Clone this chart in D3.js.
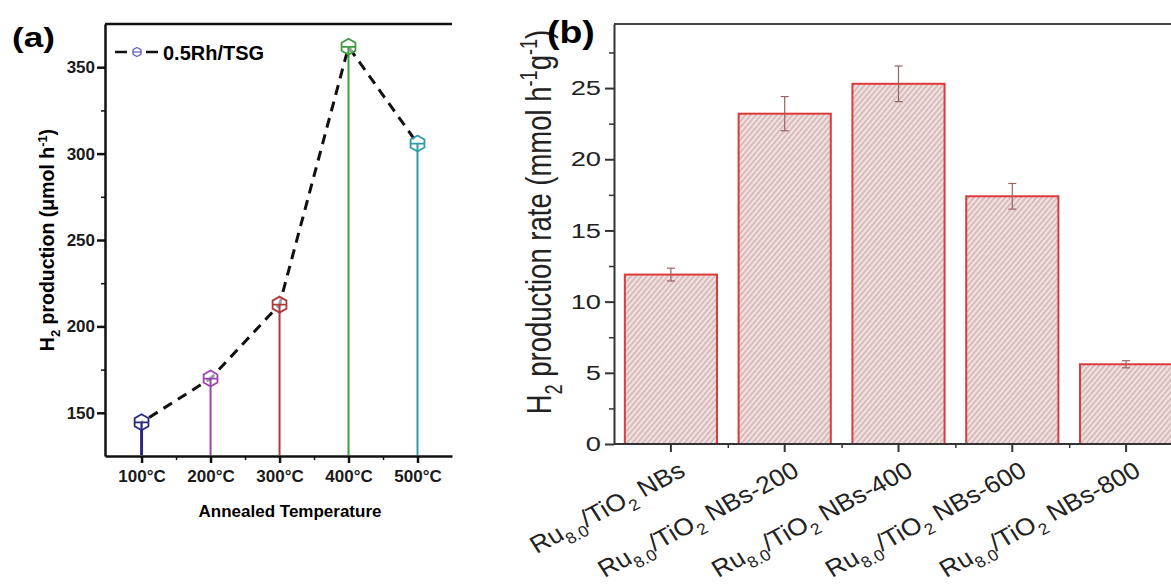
<!DOCTYPE html>
<meta charset="utf-8">
<style>
body { margin: 0; background: #fff; }
svg { display: block; font-family: Arial, "Liberation Sans", sans-serif; }
.axa path, .axa line { stroke: #111; stroke-width: 2.5px; fill: none; }
.axa text { font-weight: bold; font-size: 17px; fill: #1a1a1a; }
.axb path, .axb line { stroke: #333; stroke-width: 2px; fill: none; }
.axb text { font-size: 21px; fill: #222; }
.minor line { stroke-width: 1.5px; }
</style>
<body>
<script src="https://d3js.org/d3.v7.min.js"></script>
<script>

//
// data, panel (a)
//
var tempLabels = ["100°C", "200°C", "300°C", "400°C", "500°C"];
var h2Production = [144.5, 169.8, 212.6, 361.8, 305.8];
var aYTicks = [150, 200, 250, 300, 350];
var aYMinor = [175, 225, 275, 325];

//
// data, panel (b)
//
var sampleSuffix = ["", "-200", "-400", "-600", "-800"];
var rates = [11.9, 23.2, 25.3, 17.4, 5.6];
var rateErr = [0.45, 1.2, 1.25, 0.9, 0.25];
var bYTicks = [0, 5, 10, 15, 20, 25];
var bYMinor = [2.5, 7.5, 12.5, 17.5, 22.5, 27.5];

var stemColors = ["#2a2a80", "#9b45b2", "#ab3a3a", "#3e9c3e", "#2f9ca8"];
var stretch = 1.3;   // panel (b) numbers look pulled wider

var svg = d3.select("body").append("svg")
    .attr("width", 1171)
    .attr("height", 585);

// rich text helper: parts = [[string, "sub"|"sup"|null]]
function rich(text, parts, size) {
  var shift = 0;
  parts.forEach(function(p) {
    var target = p[1] == "sub" ? size * 0.3 : p[1] == "sup" ? -size * 0.38 : 0;
    text.append("tspan")
        .attr("dy", target - shift)
        .style("font-size", p[1] ? (size * 0.66) + "px" : null)
        .text(p[0]);
    shift = target;
  });
}

//
// Panel (a)
//
var xA = d3.scaleLinear().domain([-0.53, 4.5]).range([105, 452]);
var yA = d3.scaleLinear().domain([125, 375]).range([456, 24]);

var gA = svg.append("g");

gA.append("line")
    .attr("x1", 105).attr("x2", 452).attr("y1", 24).attr("y2", 24)
    .attr("stroke", "#111").attr("stroke-width", 2.5);

gA.append("g")
    .attr("class", "axa")
    .attr("transform", "translate(105,0)")
    .call(d3.axisLeft(yA).tickValues(aYTicks).tickSize(8).tickSizeOuter(0).tickPadding(2));

gA.append("g")
    .attr("class", "axa minor")
    .attr("transform", "translate(105,0)")
    .call(d3.axisLeft(yA).tickValues(aYMinor).tickSize(4).tickFormat(""))
    .select(".domain").remove();

gA.append("g")
    .attr("class", "axa")
    .attr("transform", "translate(0,456)")
    .call(d3.axisBottom(xA).tickValues(d3.range(5)).tickSize(7).tickSizeOuter(0).tickPadding(7)
      .tickFormat(function(i) { return tempLabels[i]; }));

gA.append("g")
    .attr("class", "axa minor")
    .attr("transform", "translate(0,456)")
    .call(d3.axisBottom(xA).tickValues([0.5, 1.5, 2.5, 3.5]).tickSize(4).tickFormat(""))
    .select(".domain").remove();

// stems
gA.selectAll(".stem").data(h2Production)
  .enter().append("line")
    .attr("class", "stem")
    .attr("x1", function(d, i) { return xA(i); })
    .attr("x2", function(d, i) { return xA(i); })
    .attr("y1", function(d) { return yA(d); })
    .attr("y2", 455)
    .attr("stroke", function(d, i) { return stemColors[i]; })
    .attr("stroke-width", function(d, i) { return i == 0 ? 3 : 2; });

// dashed connecting line
var lineA = d3.line()
    .x(function(d, i) { return xA(i); })
    .y(function(d) { return yA(d); });

gA.append("path")
    .attr("d", lineA(h2Production))
    .attr("fill", "none")
    .attr("stroke", "#111")
    .attr("stroke-width", 3)
    .attr("stroke-dasharray", "10,7")
    .attr("stroke-dashoffset", -9);

function hexPath(r) {
  var pts = d3.range(6).map(function(k) {
    var a = -Math.PI / 2 + k * Math.PI / 3;
    return [r * Math.cos(a), r * Math.sin(a)];
  });
  return "M" + pts.join("L") + "Z";
}

var markers = gA.selectAll(".mk").data(h2Production)
  .enter().append("g")
    .attr("class", "mk")
    .attr("transform", function(d, i) { return "translate(" + xA(i) + "," + yA(d) + ")"; });

markers.append("path")
    .attr("d", hexPath(8))
    .attr("fill", "#fff")
    .attr("fill-opacity", 0.6)
    .attr("stroke", function(d, i) { return stemColors[i]; })
    .attr("stroke-width", 1.8);

markers.append("path")
    .attr("d", "M-7,0H7M0,0V8")
    .attr("stroke", function(d, i) { return stemColors[i]; })
    .attr("stroke-width", 1.8);

// legend
var leg = gA.append("g").attr("transform", "translate(0,52)");
leg.append("path")
    .attr("d", "M115,0H127M146,0H158")
    .attr("stroke", "#111").attr("stroke-width", 2.5);
leg.append("path")
    .attr("d", hexPath(4.5))
    .attr("transform", "translate(137,0)")
    .attr("fill", "none").attr("stroke", "#6868b0").attr("stroke-width", 1.3);
leg.append("path")
    .attr("d", "M132,0H142")
    .attr("stroke", "#6868b0").attr("stroke-width", 1.3);
leg.append("text")
    .attr("x", 163).attr("y", 8)
    .style("font-weight", "bold").style("font-size", "20px")
    .text("0.5Rh/TSG");

// labels
gA.append("text")
    .attr("transform", "translate(12,47) scale(1.3,1)")
    .style("font-weight", "bold").style("font-size", "27px")
    .text("(a)");

gA.append("text")
    .attr("x", 290).attr("y", 517)
    .attr("text-anchor", "middle")
    .style("font-weight", "bold").style("font-size", "17px")
    .text("Annealed Temperature");

var yLabA = gA.append("text")
    .attr("transform", "translate(54,240) rotate(-90)")
    .attr("text-anchor", "middle")
    .style("font-weight", "bold").style("font-size", "19.5px");
rich(yLabA, [["H", null], ["2", "sub"], [" production (μmol h", null], ["-1", "sup"], [")", null]], 19.5);

//
// Panel (b)
//
var xB = d3.scaleBand().domain(d3.range(5)).range([614, 614 + 5 * 113.8])
    .paddingInner(0.19).paddingOuter(0.095);
var yB = d3.scaleLinear().domain([0, 29.5]).range([444, 24]);

var gB = svg.append("g");

var defs = svg.append("defs");
var pat = defs.append("pattern")
    .attr("id", "hatch")
    .attr("patternUnits", "userSpaceOnUse")
    .attr("width", 4).attr("height", 10)
    .attr("patternTransform", "rotate(40)");
pat.append("rect").attr("width", 4).attr("height", 10).attr("fill", "#f5e0e0");
pat.append("line").attr("x1", 1).attr("x2", 1).attr("y1", 0).attr("y2", 10)
    .attr("stroke", "#b79a9a").attr("stroke-width", 1);

gB.selectAll(".bar").data(rates)
  .enter().append("rect")
    .attr("class", "bar")
    .attr("x", function(d, i) { return xB(i); })
    .attr("y", function(d) { return yB(d); })
    .attr("width", xB.bandwidth())
    .attr("height", function(d) { return yB(0) - yB(d); })
    .attr("fill", "url(#hatch)")
    .attr("stroke", "#dd3a3a")
    .attr("stroke-width", 2);

// error bars
var eb = gB.selectAll(".err").data(rates)
  .enter().append("g")
    .attr("class", "err")
    .attr("stroke", "#9a6464")
    .attr("stroke-width", 1.2);
eb.append("line")
    .attr("x1", function(d, i) { return xB(i) + xB.bandwidth() / 2; })
    .attr("x2", function(d, i) { return xB(i) + xB.bandwidth() / 2; })
    .attr("y1", function(d, i) { return yB(d + rateErr[i]); })
    .attr("y2", function(d, i) { return yB(d - rateErr[i]); });
[1, -1].forEach(function(s) {
  eb.append("line")
      .attr("x1", function(d, i) { return xB(i) + xB.bandwidth() / 2 - 4; })
      .attr("x2", function(d, i) { return xB(i) + xB.bandwidth() / 2 + 4; })
      .attr("y1", function(d, i) { return yB(d + s * rateErr[i]); })
      .attr("y2", function(d, i) { return yB(d + s * rateErr[i]); });
});

// frame + axes
gB.append("line")
    .attr("x1", 614).attr("x2", 1171).attr("y1", 24).attr("y2", 24)
    .attr("stroke", "#444").attr("stroke-width", 2);

var yAxB = gB.append("g")
    .attr("class", "axb")
    .attr("transform", "translate(614,0)")
    .call(d3.axisLeft(yB).tickValues(bYTicks).tickSize(9).tickSizeOuter(0));
yAxB.selectAll("text")
    .attr("x", -10)
    .attr("transform", "scale(" + stretch + ",1)");

gB.append("g")
    .attr("class", "axb minor")
    .attr("transform", "translate(614,0)")
    .call(d3.axisLeft(yB).tickValues(bYMinor).tickSize(5).tickFormat(""))
    .select(".domain").remove();

var xAxB = gB.append("g")
    .attr("class", "axb")
    .attr("transform", "translate(0,444)")
    .call(d3.axisBottom(xB).tickSize(8).tickSizeOuter(0).tickFormat(""));
xAxB.select(".domain").attr("d", "M614,0H1171");

gB.append("g")
    .attr("class", "axb minor")
    .attr("transform", "translate(0,444)")
    .call(d3.axisBottom(d3.scaleLinear().domain([0, 1]).range([0, 1]))
      .tickValues(d3.range(1, 5).map(function(i) { return xB(i) - xB.step() * 0.095; }))
      .tickSize(4).tickFormat(""))
    .select(".domain").remove();

// category labels
sampleSuffix.forEach(function(s, i) {
  var cx = xB(i) + xB.bandwidth() / 2;
  var t = gB.append("text")
      .attr("transform", "translate(" + (cx + 16) + ",475) scale(1.1,1) rotate(-30)")
      .attr("text-anchor", "end")
      .style("font-size", "24px")
      .attr("fill", "#222");
  rich(t, [["Ru", null], ["8.0", "sub"], ["/TiO", null], ["2", "sub"], [" NBs" + s, null]], 24);
});

var yLabB = gB.append("text")
    .attr("transform", "translate(551,222) scale(" + stretch + ",1) rotate(-90)")
    .attr("text-anchor", "middle")
    .style("font-size", "27.5px")
    .attr("fill", "#222");
rich(yLabB, [["H", null], ["2", "sub"], [" production rate  (mmol h", null], ["-1", "sup"], ["g", null], ["-1", "sup"], [")", null]], 27.5);

gB.append("text")
    .attr("transform", "translate(547,43) scale(1.17,1)")
    .style("font-weight", "bold").style("font-size", "32px")
    .text("(b)");

</script>
</body>
